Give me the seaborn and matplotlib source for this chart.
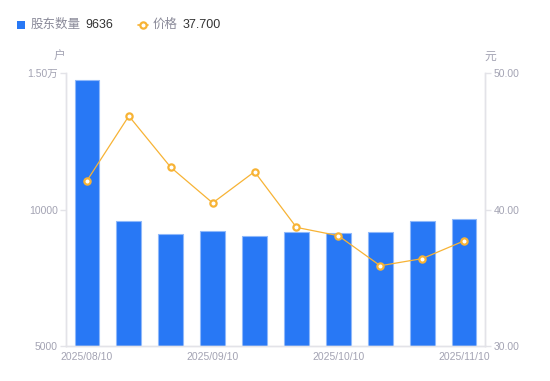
import matplotlib
matplotlib.use("Agg")
import matplotlib.pyplot as plt
import seaborn as sns
import numpy as np
from matplotlib.lines import Line2D
from matplotlib.patches import Rectangle

dates = ["2025/08/10", "2025/08/20", "2025/08/31", "2025/09/10", "2025/09/19",
         "2025/09/30", "2025/10/10", "2025/10/20", "2025/10/31", "2025/11/10"]
holders = [14740, 9580, 9100, 9210, 9030, 9190, 9130, 9180, 9580, 9636]
prices = [42.11, 46.85, 43.09, 40.48, 42.77, 38.69, 38.08, 35.88, 36.40, 37.70]
shown_labels = ["2025/08/10", "2025/09/10", "2025/10/10", "2025/11/10"]
left_ticks = [5000, 10000, 15000]
left_labels = ["5000", "10000", "1.50万"]
right_ticks = [30, 40, 50]
right_labels = ["30.00", "40.00", "50.00"]

sns.set_style("white")
plt.rcParams["font.family"] = ["Liberation Sans", "Noto Sans CJK SC", "DejaVu Sans"]

BLUE = "#2878f5"
ORANGE = "#f7b335"
AXC = "#e3e3e8"
TXT = "#a3a3b3"

fig = plt.figure(figsize=(5.5, 3.81), dpi=100)
ax = fig.add_axes([66/550, 1-346/381, (485-66)/550, (346-73)/381])

sns.barplot(x=dates, y=holders, ax=ax, color=BLUE, width=0.59, saturation=1,
            edgecolor="#8fb8fa", linewidth=0.8)
ax.set_ylim(5000, 15000)
ax.set_xlim(-0.5, 9.5)
ax.set_yticks(left_ticks)
ax.set_yticklabels(left_labels)
ax.set_xticks([dates.index(d) for d in shown_labels])
ax.set_xticklabels(shown_labels)
ax.set_xlabel("")
ax.set_ylabel("")

ax2 = ax.twinx()
sns.pointplot(x=dates, y=prices, ax=ax2, color=ORANGE, markers="o",
              linewidth=0.9, markersize=4.5, markerfacecolor="white",
              markeredgewidth=1.6, markeredgecolor=ORANGE)
ax2.set_ylim(30, 50)
ax2.set_xlim(-0.5, 9.5)
ax2.set_yticks(right_ticks)
ax2.set_yticklabels(right_labels)
ax2.set_ylabel("")
ax2.set_xlabel("")

for a in (ax, ax2):
    for s in a.spines.values():
        s.set_color(AXC)
        s.set_linewidth(1)
    a.spines["top"].set_visible(False)
    a.tick_params(axis="y", colors=AXC, labelcolor=TXT, labelsize=7.5, length=4, width=1, pad=2)
    a.tick_params(axis="x", colors=AXC, labelcolor=TXT, labelsize=7.5, length=0, pad=4)

# unit labels
fig.text(59/550, 1-57/381, "户", color=TXT, fontsize=8.5, ha="center", va="center")
fig.text(490/550, 1-57/381, "元", color=TXT, fontsize=8.5, ha="center", va="center")

# legend
fig.patches.append(Rectangle((17/550, 1-28.5/381), 8/550, 8/381, transform=fig.transFigure,
                             facecolor=BLUE, edgecolor="none", figure=fig))
fig.text(31/550, 1-24.5/381, "股东数量", color="#8a8a99", fontsize=9, ha="left", va="center")
fig.text(85/550, 1-24.5/381, str(holders[-1]), color="#333333", fontsize=9, ha="left", va="center")
fig.lines.append(Line2D([138/550, 148/550], [1-24.5/381, 1-24.5/381], transform=fig.transFigure,
                        color=ORANGE, linewidth=1.2, marker="o", markevery=[0], markersize=0, figure=fig))
fig.lines.append(Line2D([143/550], [1-24.5/381], transform=fig.transFigure, color=ORANGE,
                        marker="o", markersize=4.5, markerfacecolor="white", markeredgewidth=1.6,
                        linestyle="none", figure=fig))
fig.text(153/550, 1-24.5/381, "价格", color="#8a8a99", fontsize=9, ha="left", va="center")
fig.text(183/550, 1-24.5/381, f"{prices[-1]:.3f}", color="#333333", fontsize=9, ha="left", va="center")

fig.savefig("out.png", dpi=100)
